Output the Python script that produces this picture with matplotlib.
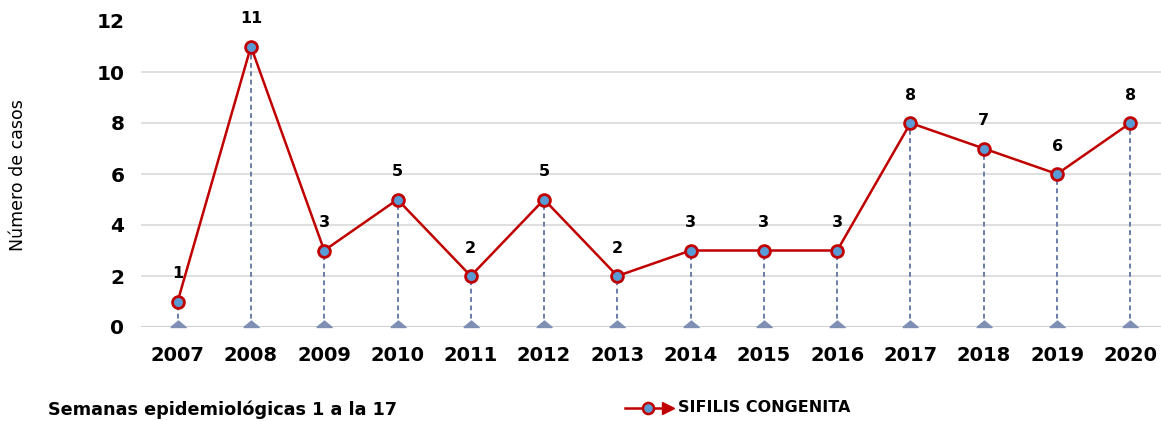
import matplotlib.pyplot as plt
from matplotlib.lines import Line2D

years = ['2007', '2008', '2009', '2010', '2011', '2012', '2013',
         '2014', '2015', '2016', '2017', '2018', '2019', '2020']
casos = [1, 11, 3, 5, 2, 5, 2, 3, 3, 3, 8, 7, 6, 8]
yticks = [0, 2, 4, 6, 8, 10, 12]

plt.rcParams['font.family'] = ['DejaVu Sans']

fig = plt.figure(figsize=(11.61, 4.21), dpi=100)
# plot area runs past the right edge, like the cropped original
ax = fig.add_axes([141 / 1161, 1 - 327 / 421, 1026 / 1161, 306 / 421])

x = list(range(len(years)))

# grid lines
for t in yticks[1:-1]:
    ax.axhline(t, color='#d9d9d9', lw=1.2, zorder=0)
ax.axhline(0, color='#d0d0d0', lw=1.5, zorder=1)

# drop lines with flat triangles sitting on the axis
ax.vlines(x, 0, casos, colors='#6b7ea8', linestyles=(0, (2.5, 1.8)), lw=1.4, zorder=2)
tri = [(-1, 0), (1, 0), (0, 0.85), (-1, 0)]
ax.plot(x, [0] * len(x), ls='none', marker=tri, ms=11, color='#7f8fb3',
        mec='#7f8fb3', clip_on=False, zorder=3)

# main series
ax.plot(x, casos, color='#c00000', lw=1.8, marker='o', ms=8.5,
        mfc='#5b9bd5', mec='#c00000', mew=2, zorder=4, clip_on=False)

for xi, v in zip(x, casos):
    ax.annotate(str(v), (xi, v), xytext=(0, 20), textcoords='offset points',
                ha='center', va='center', fontsize=11.5, fontweight='bold')

ax.set_xlim(-0.5, len(years) - 0.5)
ax.set_ylim(0, 12)
ax.set_yticks(yticks)
ax.set_yticklabels([str(t) for t in yticks], fontsize=14.5, fontweight='bold')
ax.set_xticks(x)
ax.set_xticklabels(years, fontsize=14, fontweight='bold')
ax.tick_params(axis='both', length=0)
ax.tick_params(axis='y', pad=12)
ax.tick_params(axis='x', pad=14)
for s in ax.spines.values():
    s.set_visible(False)

fig.text(18 / 1161, 1 - 175 / 421, 'Número de casos', rotation=90,
         ha='center', va='center', fontsize=12.5)
fig.text(48 / 1161, 1 - 410 / 421, 'Semanas epidemiológicas 1 a la 17',
         ha='left', va='center', fontsize=12.7, fontweight='bold')

# legend drawn by hand: line, marker, arrow head
ly = 1 - 408 / 421
fig.add_artist(Line2D([625 / 1161, 665 / 1161], [ly, ly], color='#c00000', lw=1.8))
fig.add_artist(Line2D([648 / 1161], [ly], marker='o', ms=8, mfc='#5b9bd5',
                      mec='#c00000', mew=1.8))
fig.add_artist(Line2D([668 / 1161], [ly], marker='>', ms=8, color='#c00000'))
fig.text(678 / 1161, ly, 'SIFILIS CONGENITA', ha='left', va='center',
         fontsize=11.5, fontweight='bold')

fig.savefig('out.png', dpi=100)
